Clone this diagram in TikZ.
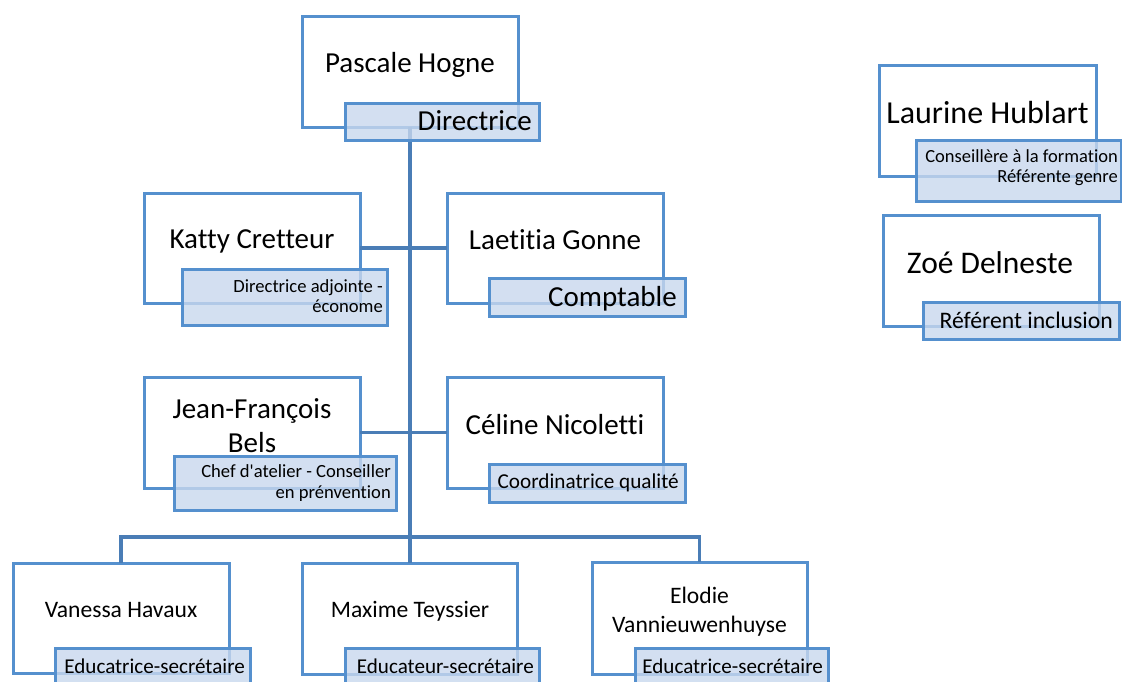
\documentclass[tikz,border=0pt]{standalone}
\usepackage{fontspec}
\setmainfont{Carlito}[Ligatures=NoCommon]
\definecolor{boxline}{HTML}{5590CE}
\definecolor{connline}{HTML}{4A7DB6}
\definecolor{subfill}{HTML}{C8D8EE}
\newcommand\fsz[1]{\fontsize{#1}{#1}\selectfont}
\tikzset{
  outerbox/.style={draw=boxline, line width=3pt, fill=white, inner sep=0pt, outer sep=0pt},
  subbox/.style={draw=boxline, line width=3pt, fill=subfill, fill opacity=0.8, inner sep=0pt, outer sep=0pt},
  connector/.style={draw=connline, line width=3.2pt},
  nametxt/.style={inner sep=0pt, anchor=base},
  roletxt/.style={inner sep=0pt, anchor=base east},
}
\begin{document}
\begin{tikzpicture}[x=1pt,y=-1pt]
\useasboundingbox (0,0) rectangle (1122,681);
% outer boxes
\node[outerbox, minimum width=216pt, minimum height=111pt] (ph) at (410,71.5) {};
\node[outerbox, minimum width=216pt, minimum height=110pt] (kc) at (252,248) {};
\node[outerbox, minimum width=216pt, minimum height=110pt] (lg) at (555,248) {};
\node[outerbox, minimum width=216pt, minimum height=111pt] (jf) at (252,432.5) {};
\node[outerbox, minimum width=216pt, minimum height=111pt] (cn) at (555,432.5) {};
\node[outerbox, minimum width=216pt, minimum height=110pt] (vh) at (121,618) {};
\node[outerbox, minimum width=215pt, minimum height=111pt] (mt) at (410,618.5) {};
\node[outerbox, minimum width=215pt, minimum height=112pt] (ev) at (699.5,618) {};
\node[outerbox, minimum width=217pt, minimum height=111pt] (lh) at (987.5,120.5) {};
\node[outerbox, minimum width=216pt, minimum height=111pt] (zd) at (991,270.5) {};
% connectors
\coordinate (bus) at (410,537);
\draw[connector] (ph.south) -- (ph.south |- mt.north);
\draw[connector] (kc.east) -- (kc.east -| lg.west);
\draw[connector] (jf.east) -- (jf.east -| cn.west);
\draw[connector] (vh.north) |- (bus) -| (ev.north);
% names
\node[nametxt] (phn) at (410,72) {\fsz{29}Pascale Hogne};
\node[nametxt] (kcn) at (252,248) {\fsz{29}Katty Cretteur};
\node[nametxt] (lgn) at (555,249) {\fsz{29}Laetitia Gonne};
\node[nametxt] (jfn1) at (252,418) {\fsz{29}Jean-François};
\node[nametxt] (jfn2) at (252,452) {\fsz{29}Bels};
\node[nametxt] (cnn) at (555,434) {\fsz{29}Céline Nicoletti};
\node[nametxt] (vhn) at (121,617) {\fsz{23.6}Vanessa Havaux};
\node[nametxt] (mtn) at (410,617) {\fsz{23.6}Maxime Teyssier};
\node[nametxt] (evn1) at (699.5,603) {\fsz{23.6}Elodie};
\node[nametxt] (evn2) at (699.5,632) {\fsz{23.6}Vannieuwenhuyse};
\node[nametxt] (lhn) at (987.5,123) {\fsz{32}Laurine Hublart};
\node[nametxt] (zdn) at (990,273) {\fsz{31.5}Zoé Delneste};
% role boxes
\node[subbox, minimum width=194pt, minimum height=37pt] (phs) at (442,121.5) {};
\node[subbox, minimum width=205pt, minimum height=56pt] (kcs) at (284.5,297) {};
\node[subbox, minimum width=196pt, minimum height=38pt] (lgs) at (587,297) {};
\node[subbox, minimum width=222pt, minimum height=54pt] (jfs) at (285,483) {};
\node[subbox, minimum width=196pt, minimum height=38pt] (cns) at (587,483) {};
\node[subbox, minimum width=195pt, minimum height=38pt] (vhs) at (152.5,667) {};
\node[subbox, minimum width=194pt, minimum height=38pt] (mts) at (442,667) {};
\node[subbox, minimum width=193pt, minimum height=38pt] (evs) at (731.5,667) {};
\node[subbox, minimum width=205pt, minimum height=61pt] (lhs) at (1018.5,170.5) {};
\node[subbox, minimum width=196pt, minimum height=37pt] (zds) at (1021,320.5) {};
% role texts
\node[roletxt] (pht) at (532,130) {\fsz{29}Directrice};
\node[roletxt] (kct1) at (383,292) {\fsz{18.6}Directrice adjointe -};
\node[roletxt] (kct2) at (383,312) {\fsz{18.6}économe};
\node[roletxt] (lgt) at (677,306) {\fsz{29}Comptable};
\node[roletxt] (jft1) at (391,477) {\fsz{18.6}Chef d\textquotesingle atelier - Conseiller};
\node[roletxt] (jft2) at (391,498) {\fsz{18.6}en prénvention};
\node[roletxt] (cnt) at (679,488) {\fsz{21.2}Coordinatrice qualité};
\node[roletxt] (vht) at (245,673) {\fsz{21.1}Educatrice-secrétaire};
\node[roletxt] (mtt) at (534,673) {\fsz{21.1}Educateur-secrétaire};
\node[roletxt] (evt) at (823,673) {\fsz{21.1}Educatrice-secrétaire};
\node[roletxt] (lht1) at (1118,162) {\fsz{18.5}Conseillère à la formation};
\node[roletxt] (lht2) at (1118,182) {\fsz{18.5}Référente genre};
\node[roletxt] (zdt) at (1113,328) {\fsz{23.7}Référent inclusion};
\end{tikzpicture}
\end{document}
